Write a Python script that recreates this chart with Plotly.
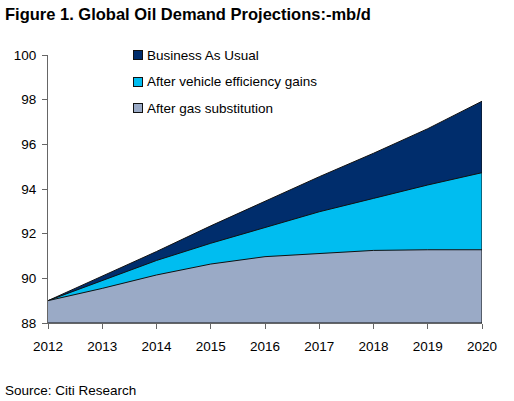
import plotly.graph_objects as go

years = [2012, 2013, 2014, 2015, 2016, 2017, 2018, 2019, 2020]
business_as_usual = [89.0, 90.1, 91.2, 92.35, 93.45, 94.55, 95.6, 96.7, 97.93]
after_vehicle_eff = [89.0, 89.9, 90.8, 91.57, 92.27, 92.98, 93.58, 94.18, 94.73]
after_gas_sub = [89.0, 89.55, 90.15, 90.64, 90.97, 91.12, 91.25, 91.28, 91.28]

series_names = ["Business As Usual", "After vehicle efficiency gains", "After gas substitution"]
series_values = [business_as_usual, after_vehicle_eff, after_gas_sub]
series_colors = ["#002D6C", "#00BDF0", "#9AAAC6"]

y_base = 88
y_ticks = [88, 90, 92, 94, 96, 98, 100]

FONT = "Liberation Sans, Arial, sans-serif"

fig = go.Figure()
for name, vals, col in zip(series_names, series_values, series_colors):
    xs = years + [years[-1], years[0]]
    ys = vals + [y_base, y_base]
    fig.add_trace(go.Scatter(
        x=xs, y=ys, mode="lines", fill="toself", fillcolor=col, name=name,
        line=dict(color="#111111", width=1), showlegend=False, hoverinfo="skip"))

# legend built from annotations (glyph boxes + labels)
legend_x_glyph = 0.2074
legend_x_text = 0.2258
legend_rows_y = [1.0, 0.901, 0.802]
annotations = []
for name, col, ly in zip(series_names, series_colors, legend_rows_y):
    annotations.append(dict(text=" ", xref="paper", yref="paper", x=legend_x_glyph, y=ly,
                            xanchor="center", yanchor="middle", showarrow=False,
                            width=8, height=8, bgcolor=col, bordercolor="#111111",
                            borderwidth=1, borderpad=0, font=dict(size=4)))
    annotations.append(dict(text=name, xref="paper", yref="paper", x=legend_x_text, y=ly,
                            xanchor="left", yanchor="middle", showarrow=False, borderpad=0,
                            font=dict(size=13.5, family=FONT, color="black")))

annotations += [
    dict(text="<b>Figure 1. Global Oil Demand Projections:-mb/d</b>", xref="paper", yref="paper",
         x=-0.1014, y=1.153, xanchor="left", yanchor="middle", showarrow=False, borderpad=0,
         font=dict(size=16.5, family=FONT, color="black")),
    dict(text="Source: Citi Research", xref="paper", yref="paper",
         x=-0.1014, y=-0.25, xanchor="left", yanchor="middle", showarrow=False, borderpad=0,
         font=dict(size=13.5, family=FONT, color="black")),
]

fig.update_layout(
    width=514, height=401,
    margin=dict(l=48, r=32, t=55, b=78),
    paper_bgcolor="white", plot_bgcolor="white",
    font=dict(family=FONT, size=13, color="black"),
    showlegend=False,
    xaxis=dict(range=[years[0], years[-1]], tickmode="array", tickvals=years,
               ticktext=[str(y) for y in years], showgrid=False, zeroline=False,
               showline=True, linecolor="#666666", linewidth=1,
               ticks="outside", ticklen=5, tickcolor="#666666", automargin=False,
               ticklabelstandoff=6, tickfont=dict(size=13.5)),
    yaxis=dict(range=[88, 100], tickmode="array", tickvals=y_ticks,
               showgrid=False, zeroline=False, showline=True, linecolor="#666666",
               linewidth=1, ticks="outside", ticklen=5, tickcolor="#666666",
               automargin=False, ticklabelstandoff=3, tickfont=dict(size=13.5)),
    annotations=annotations,
)

fig.write_html("out.html", config={"displayModeBar": False},
               post_script="document.body.style.margin='0';document.body.style.overflow='hidden';")
